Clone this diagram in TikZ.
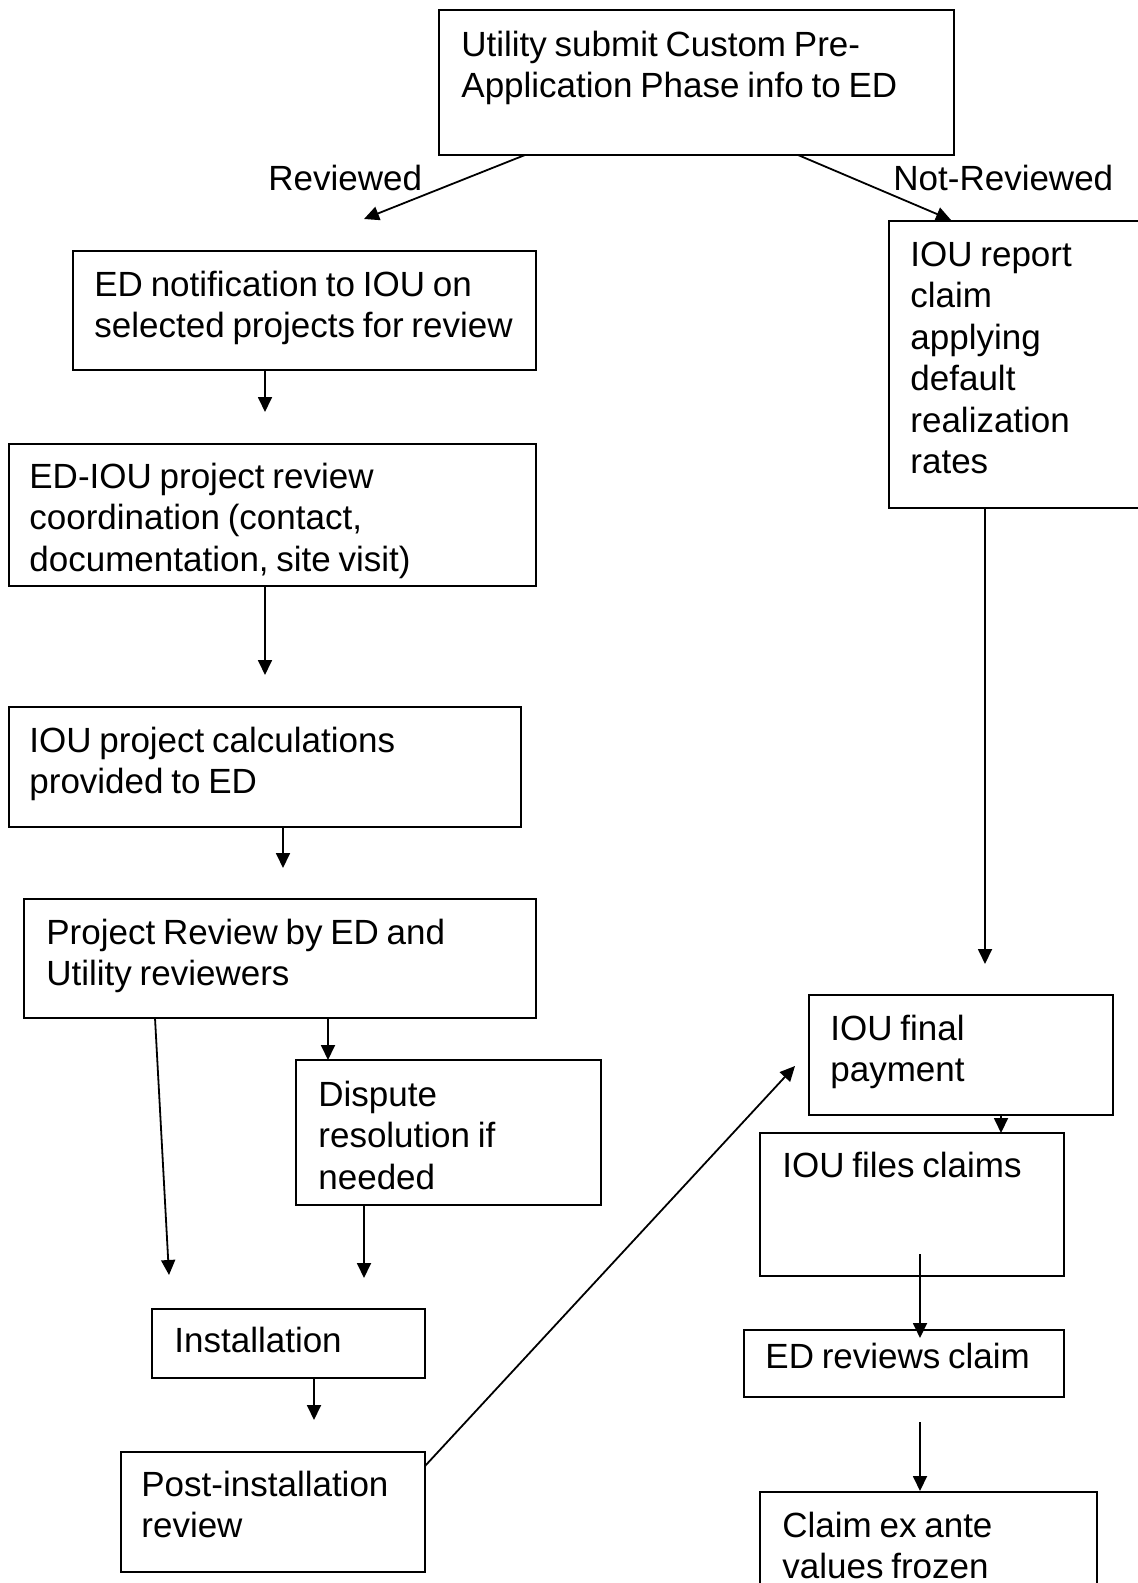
\documentclass[tikz,border=0pt]{standalone}
\usepackage{fontspec}
\setmainfont{Liberation Sans}[WordSpace=0.8]
\usetikzlibrary{arrows.meta,fit}
\begin{document}
\begin{tikzpicture}[x=0.5pt,y=-0.5pt,
  box/.style={draw,line width=1pt,inner sep=0pt,outer sep=0pt},
  txt/.style={anchor=north west,inner sep=0pt,align=left,font=\fontsize{17.5}{20.75}\selectfont},
  arr/.style={line width=0.9pt,-{Triangle[length=7.5pt,width=7pt]}}]
\useasboundingbox (0,0) rectangle (1138,1583);
\clip (0,0) rectangle (1138,1583);
% boxes
\node[box,fit={(439,10) (954,155)}] (top) {};
\node[box,fit={(73,251) (536,370)}] (edn) {};
\node[box,fit={(9,444) (536,586)}] (edi) {};
\node[box,fit={(9,707) (521,827)}] (calc) {};
\node[box,fit={(24,899) (536,1018)}] (prj) {};
\node[box,fit={(296,1060) (601,1205)}] (disp) {};
\node[box,fit={(152,1309) (425,1378)}] (inst) {};
\node[box,fit={(121,1452) (425,1572)}] (post) {};
\node[box,fit={(889,221) (1145,508)}] (rep) {};
\node[box,fit={(809,995) (1113,1115)}] (pay) {};
\node[box,fit={(760,1133) (1064,1276)}] (files) {};
\node[box,fit={(744,1330) (1064,1397)}] (edr) {};
\node[box,fit={(760,1492) (1097,1595)}] (froz) {};
% texts
\node[txt] (topT) at (461,27) {\strut Utility submit Custom Pre-\\Application Phase info to ED};
\node[txt] (revL) at (268,161) {\strut Reviewed};
\node[txt] (nrevL) at (893,161) {\strut Not-Reviewed};
\node[txt] (ednT) at (94,267) {\strut ED notification to IOU on\\selected projects for review};
\node[txt] (ediT) at (29,459) {\strut ED-IOU project review\\coordination (contact,\\documentation, site visit)};
\node[txt] (calcT) at (29,723) {\strut IOU project calculations\\provided to ED};
\node[txt] (prjT) at (46,915) {\strut Project Review by ED and\\Utility reviewers};
\node[txt] (dispT) at (318,1077) {\strut Dispute\\resolution if\\needed};
\node[txt] (instT) at (174,1323) {\strut Installation};
\node[txt] (postT) at (141,1467) {\strut Post-installation\\review};
\node[txt] (repT) at (910,237) {\strut IOU report\\claim\\applying\\default\\realization\\rates};
\node[txt] (payT) at (830,1011) {\strut IOU final\\payment};
\node[txt] (filesT) at (782,1148) {\strut IOU files claims};
\node[txt] (edrT) at (765,1339) {\strut ED reviews claim};
\node[txt] (frozT) at (782,1508) {\strut Claim ex ante\\values frozen};
% connector coordinates
\coordinate (c1) at (525,0);
\coordinate (e1) at (364,219);
\coordinate (c2) at (798,0);
\coordinate (e2) at (951,220);
\coordinate (c3) at (265,0);
\coordinate (e3) at (265,412);
\coordinate (e4) at (265,675);
\coordinate (c5) at (283,0);
\coordinate (e5) at (283,868);
\coordinate (c6) at (155,0);
\coordinate (e6) at (169,1275);
\coordinate (c7) at (328,0);
\coordinate (c8) at (364,0);
\coordinate (e8) at (364,1278);
\coordinate (c9) at (314,0);
\coordinate (e9) at (314,1420);
\coordinate (s10) at (425,1466);
\coordinate (e10) at (795,1066);
\coordinate (c11) at (985,0);
\coordinate (e11) at (985,964);
\coordinate (c12) at (1001,0);
\coordinate (s13) at (920,1254);
\coordinate (e13) at (920,1338);
\coordinate (s14) at (920,1422);
\coordinate (e14) at (920,1491);
% connectors
\draw[arr] (top.south -| c1) -- (e1);
\draw[arr] (top.south -| c2) -- (e2);
\draw[arr] (edn.south -| c3) -- (e3);
\draw[arr] (edi.south -| c3) -- (e4);
\draw[arr] (calc.south -| c5) -- (e5);
\draw[arr] (prj.south -| c6) -- (e6);
\draw[arr] (prj.south -| c7) -- (disp.north -| c7);
\draw[arr] (disp.south -| c8) -- (e8);
\draw[arr] (inst.south -| c9) -- (e9);
\draw[arr] (s10) -- (e10);
\draw[arr] (rep.south -| c11) -- (e11);
\draw[arr] (pay.south -| c12) -- (files.north -| c12);
\draw[arr] (s13) -- (e13);
\draw[arr] (s14) -- (e14);
\end{tikzpicture}
\end{document}
